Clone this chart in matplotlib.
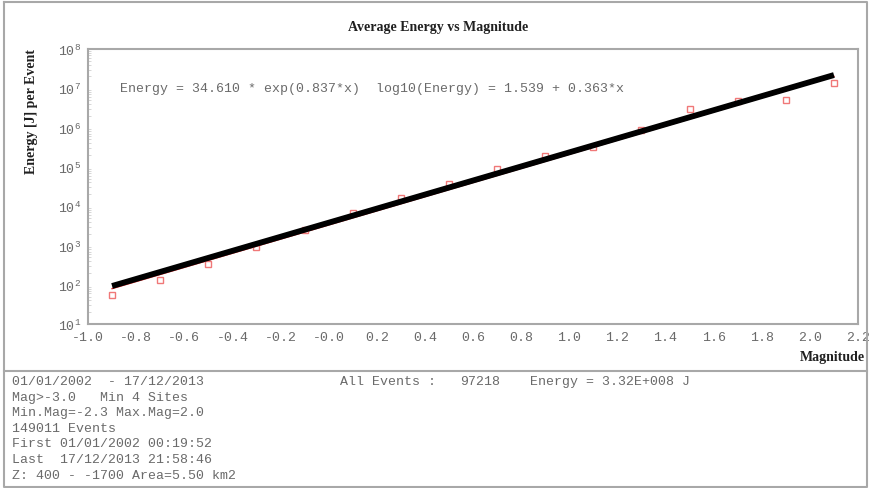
import numpy as np
import matplotlib.pyplot as plt
from matplotlib.ticker import LogLocator, LogFormatterMathtext
from matplotlib.lines import Line2D

# Average energy per magnitude bin
magnitude = [-0.9, -0.7, -0.5, -0.3, -0.1, 0.1, 0.3, 0.5, 0.7, 0.9,
             1.1, 1.3, 1.5, 1.7, 1.9, 2.1]
energy = [55, 130, 340, 900, 2400, 6700, 1.6e4, 3.7e4, 8.8e4, 1.9e5,
          3.2e5, 8.7e5, 3.0e6, 4.7e6, 5.0e6, 1.36e7]

# fitted lines (end points)
fit_x = [-0.9, 2.1]
fit_black = [10 ** 1.967, 10 ** 7.337]
fit_red = [10 ** 1.90, 10 ** 7.30]

xticks = [-1.0, -0.8, -0.6, -0.4, -0.2, 0.0, 0.2, 0.4, 0.6, 0.8, 1.0,
          1.2, 1.4, 1.6, 1.8, 2.0, 2.2]
xtick_labels = ["-1.0", "-0.8", "-0.6", "-0.4", "-0.2", "-0.0", "0.2", "0.4",
                "0.6", "0.8", "1.0", "1.2", "1.4", "1.6", "1.8", "2.0", "2.2"]

title = "Average Energy vs Magnitude"
equation = "Energy = 34.610 * exp(0.837*x)  log10(Energy) = 1.539 + 0.363*x"
info_lines = [
    "01/01/2002  - 17/12/2013",
    "Mag>-3.0   Min 4 Sites",
    "Min.Mag=-2.3 Max.Mag=2.0",
    "149011 Events",
    "First 01/01/2002 00:19:52",
    "Last  17/12/2013 21:58:46",
    "Z: 400 - -1700 Area=5.50 km2",
]
all_events = "All Events :"
n_events = "97218"
total_energy = "Energy = 3.32E+008 J"

W, H = 871, 489
mono = "Liberation Mono"
serif = "Liberation Serif"
grey_txt = "#6a6a6a"
frame = "#a8a8a8"

fig = plt.figure(figsize=(W / 100, H / 100), dpi=100)

# outer frame and separator of the info panel
for xs, ys in [([4, 867, 867, 4, 4], [3, 3, 488, 488, 3]), ([4, 867], [372, 372])]:
    fig.add_artist(Line2D([x / W for x in xs], [1 - y / H for y in ys],
                          color=frame, lw=1.5, transform=fig.transFigure))

ax = fig.add_axes([88 / W, 1 - 325 / H, (858 - 88) / W, (325 - 50) / H])
ax.set_yscale("log")
ax.set_xlim(-1.0, 2.2)
ax.set_ylim(10, 1e8)

ax.plot(fit_x, fit_red, color="#e83030", lw=1.0, zorder=2)
ax.plot(magnitude, energy, ls="none", marker="s", ms=5, mfc="none",
        mec="#f07878", mew=1.0, zorder=3)
ax.plot(fit_x, fit_black, color="black", lw=4.2, solid_capstyle="butt", zorder=4)

for s in ax.spines.values():
    s.set_color(frame)
    s.set_linewidth(1.5)

ax.set_xticks(xticks)
ax.set_xticklabels(xtick_labels, fontfamily=mono)
ax.yaxis.set_major_locator(LogLocator(base=10, numticks=10))
ax.yaxis.set_major_formatter(LogFormatterMathtext())
ax.yaxis.set_minor_locator(LogLocator(base=10, subs=np.arange(2, 10), numticks=10))
ax.yaxis.set_minor_formatter(plt.NullFormatter())
ax.tick_params(axis="both", which="major", length=0, pad=5,
               labelsize=9.5, labelcolor=grey_txt)
ax.tick_params(axis="y", which="minor", length=2, color="#d0d0d0", direction="in")
for lab in ax.get_xticklabels() + ax.get_yticklabels():
    lab.set_fontfamily(mono)

ax.text(120 / W, 1 - 89 / H, equation, transform=fig.transFigure, fontsize=9.5,
        family=mono, color=grey_txt, va="center", ha="left")

fig.text(438 / W, 1 - 27 / H, title, fontsize=10, family=serif,
         weight="bold", color="#202020", ha="center", va="center")
fig.text(32 / W, 1 - 112 / H, "Energy [J] per Event", fontsize=10, family=serif,
         weight="bold", color="#202020", rotation=90, ha="center", va="center")
fig.text(865 / W, 1 - 358 / H, "Magnitude", fontsize=10, family=serif,
         weight="bold", color="#202020", ha="right", va="center")

for i, line in enumerate(info_lines):
    fig.text(12 / W, 1 - (382 + 15.6 * i) / H, line, fontsize=9.5, family=mono,
             color=grey_txt, ha="left", va="center")
fig.text(340 / W, 1 - 382 / H, all_events, fontsize=9.5, family=mono,
         color=grey_txt, ha="left", va="center")
fig.text(460 / W, 1 - 382 / H, n_events, fontsize=9.5, family=mono,
         color=grey_txt, ha="left", va="center")
fig.text(530 / W, 1 - 382 / H, total_energy, fontsize=9.5, family=mono,
         color=grey_txt, ha="left", va="center")

fig.savefig("out.png", dpi=100)
